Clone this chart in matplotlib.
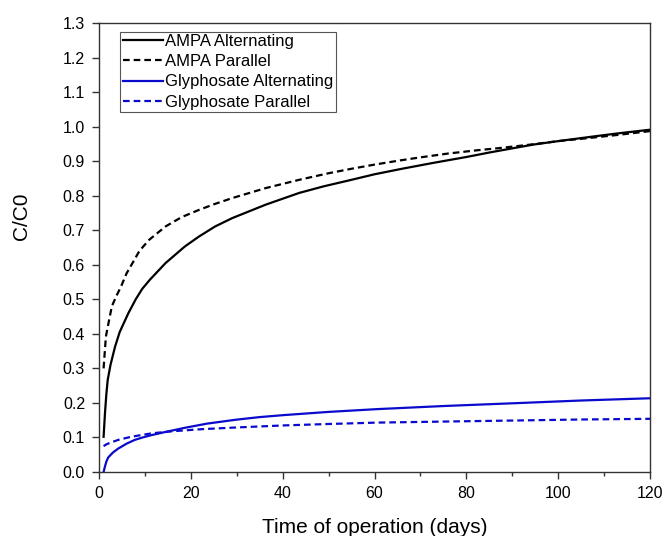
import matplotlib.pyplot as plt

ampa_alt_t = [1, 1.3, 1.6, 1.9, 2.5, 3.5, 4.5, 6.4, 8, 9.4, 11.1, 14.5, 18.7, 21.8, 25.3, 29, 36.3, 43.6,
              48.9, 55, 60, 66, 72.8, 80, 85, 90, 94.6, 100, 108, 114, 120]
ampa_alt_c = [0.102, 0.17, 0.225, 0.267, 0.31, 0.363, 0.405, 0.46, 0.5, 0.53, 0.557, 0.605, 0.653, 0.682,
              0.711, 0.735, 0.774, 0.808, 0.827, 0.846, 0.862, 0.878, 0.895, 0.912, 0.925, 0.937, 0.948,
              0.958, 0.972, 0.982, 0.991]

ampa_par_t = [1, 1.5, 2.2, 2.8, 3.8, 4.8, 6, 7.3, 8.8, 10.9, 14.5, 18, 21.8, 25, 29, 36.3, 43.6, 50, 55,
              60, 65.5, 70, 76, 82, 87.3, 94, 100, 106, 113, 120]
ampa_par_c = [0.30, 0.392, 0.44, 0.48, 0.51, 0.537, 0.575, 0.605, 0.64, 0.672, 0.711, 0.738, 0.759, 0.775,
              0.793, 0.822, 0.846, 0.865, 0.878, 0.89, 0.902, 0.911, 0.922, 0.931, 0.938, 0.948, 0.958,
              0.966, 0.976, 0.987]

gly_alt_t = [1, 1.3, 1.6, 2, 3, 4.2, 6, 7.8, 9.5, 11.5, 14.5, 18.7, 23.5, 29.6, 35, 40.5, 50, 60.5, 75,
             90.2, 105, 120]
gly_alt_c = [0.0, 0.016, 0.03, 0.042, 0.056, 0.068, 0.082, 0.093, 0.1, 0.107, 0.116, 0.128, 0.14, 0.151,
             0.159, 0.165, 0.174, 0.182, 0.191, 0.199, 0.207, 0.2135]

gly_par_t = [1, 1.6, 2.5, 4.2, 7, 11.5, 16, 22.4, 30, 40.5, 50, 60.5, 75, 90.2, 105, 120]
gly_par_c = [0.075, 0.08, 0.085, 0.093, 0.102, 0.112, 0.118, 0.124, 0.129, 0.135, 0.139, 0.143, 0.146,
             0.149, 0.152, 0.154]

x_ticks = [0, 20, 40, 60, 80, 100, 120]
y_ticks = [i / 10 for i in range(14)]


def main():
    plt.rcParams['font.family'] = ['Liberation Sans', 'DejaVu Sans']
    fig = plt.figure(figsize=(6.66, 5.36), dpi=100)
    ax = fig.add_axes([99 / 666, 64 / 536, 551 / 666, 449 / 536])

    blue = '#0a0acc'
    lw = 1.6
    common = dict(lw=lw, solid_joinstyle='round', dash_joinstyle='round')
    ax.plot(ampa_alt_t, ampa_alt_c, color='black', label='AMPA Alternating', **common)
    ax.plot(ampa_par_t, ampa_par_c, color='black', dashes=(3, 1.8), label='AMPA Parallel', **common)
    ax.plot(gly_alt_t, gly_alt_c, color=blue, label='Glyphosate Alternating', **common)
    ax.plot(gly_par_t, gly_par_c, color=blue, dashes=(3, 1.8), label='Glyphosate Parallel', **common)

    ax.set_xlim(0, 120)
    ax.set_ylim(0, 1.3)
    ax.set_xticks(x_ticks)
    ax.set_xticks(range(10, 120, 20), minor=True)
    ax.set_yticks(y_ticks)
    ax.set_yticklabels([f'{v:.1f}' for v in y_ticks])
    ax.tick_params(direction='out', length=5, width=1, labelsize=11.5, pad=5, color='#333333')
    ax.tick_params(which='minor', direction='out', length=3, width=1, color='#333333')
    for s in ax.spines.values():
        s.set_color('#333333')
        s.set_linewidth(1.0)

    ax.set_xlabel('Time of operation (days)', fontsize=15, labelpad=12)
    ax.set_ylabel('C/C0', fontsize=15)
    ax.yaxis.set_label_coords(-0.124, 0.57)

    leg = ax.legend(loc='upper left', bbox_to_anchor=(0.039, 0.981), borderaxespad=0,
                    fontsize=12, handlelength=2.4, handletextpad=0.15, labelspacing=0.31,
                    borderpad=0.15, fancybox=False, framealpha=1, edgecolor='#555555')
    leg.get_frame().set_linewidth(0.8)

    plt.savefig('out.png', dpi=100)


if __name__ == "__main__":
    main()
